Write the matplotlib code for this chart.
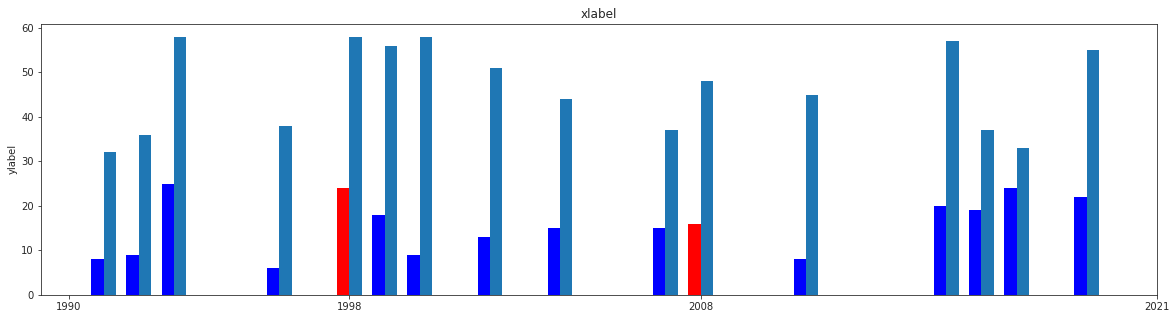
import matplotlib
matplotlib.use("Agg")
import matplotlib.pyplot as plt
import numpy as np

years = [1991, 1992, 1993, 1996, 1998, 1999, 2000, 2002, 2004, 2007, 2008, 2011, 2015, 2016, 2017, 2019]
first_values = [8, 9, 25, 6, 24, 18, 9, 13, 15, 15, 16, 8, 20, 19, 24, 22]
second_values = [32, 36, 58, 38, 58, 56, 58, 51, 44, 37, 48, 45, 57, 37, 33, 55]
highlight_years = [1998, 2008]
tick_years = [1990, 1998, 2008, 2021]

plt.rcParams['font.family'] = ['DejaVu Sans']
plt.rcParams['axes.edgecolor'] = '.15'
plt.rcParams['xtick.color'] = '.15'
plt.rcParams['ytick.color'] = '.15'
plt.rcParams['text.color'] = '.15'
plt.rcParams['axes.labelcolor'] = '.15'

fig = plt.figure(figsize=(1176/72, 319/72), dpi=72)
ax = fig.add_axes([41/1176, 1-295/319, (1157-41)/1176, (295-23.7)/319])

width = 0.35
x = np.array(years, dtype=float)
colors = ['red' if y in highlight_years else 'blue' for y in years]
ax.bar(x - width/2, first_values, width, color=colors)
ax.bar(x + width/2, second_values, width, color='#1f77b4')
ax.set_xticks(tick_years)
ax.set_title('xlabel')
ax.set_ylabel('ylabel')

fig.savefig('out.png', dpi=72)
